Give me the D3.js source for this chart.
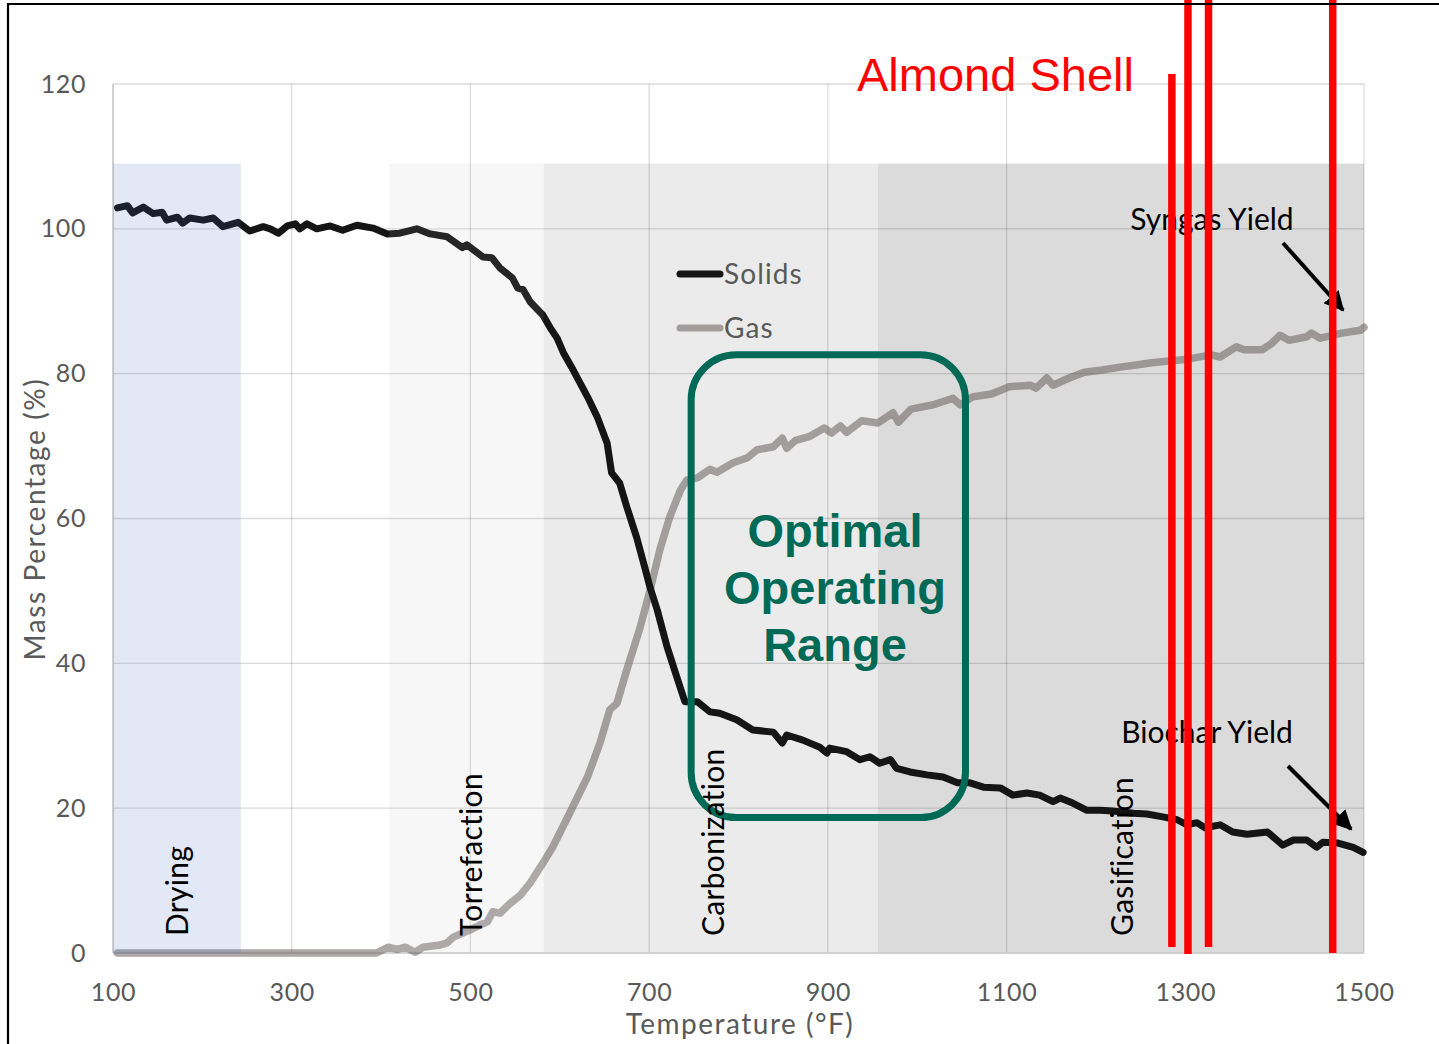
<!DOCTYPE html>
<html><head><meta charset="utf-8">
<script src="https://cdn.jsdelivr.net/npm/d3@7"></script>
<style>body{margin:0;background:#fff}svg{display:block}</style>
</head><body>
<svg id="c" width="1439" height="1044"></svg>
<script>
// ---------- data ----------
const xTicks = [100, 300, 500, 700, 900, 1100, 1300, 1500];
const yTicks = [0, 20, 40, 60, 80, 100, 120];

const solidsTemp = [105,116,122,134,145,155,160,172,178,186,201,212,223,240,253,268,276,285,295,304,309,317,328,343,357,373,391,407,421,440,455,474,491,496,514,524,533,547,553,559,567,581,589,597,604,615,631,642,653,658,667,675,686,695,701,709,720,731,740,754,768,779,798,816,839,849,854,872,891,899,902,921,936,947,958,970,977,992,1011,1029,1045,1059,1074,1093,1107,1123,1137,1152,1160,1174,1190,1205,1219,1242,1257,1275,1291,1302,1313,1322,1339,1353,1369,1392,1409,1421,1436,1447,1454,1470,1488,1499];
const solidsPct  = [102.9,103.2,102.2,103.0,102.1,102.3,101.2,101.6,100.8,101.5,101.2,101.5,100.3,100.9,99.7,100.3,100.0,99.4,100.4,100.7,100.0,100.7,100.0,100.4,99.8,100.5,100.1,99.3,99.4,100.0,99.3,98.9,97.4,97.8,96.1,96.0,94.6,93.2,91.8,91.6,89.9,88.1,86.4,84.9,82.9,80.5,76.8,74.0,70.4,66.3,64.9,61.6,57.4,53.3,50.5,47.4,42.3,38.1,34.7,34.7,33.3,33.1,32.2,30.8,30.5,29.0,30.1,29.4,28.4,27.6,28.3,27.8,26.7,27.1,26.2,26.7,25.5,25.0,24.6,24.3,23.5,23.5,22.9,22.8,21.8,22.1,21.8,20.9,21.4,20.7,19.7,19.7,19.6,19.3,19.2,18.8,18.4,17.7,18.0,17.3,17.7,16.7,16.4,16.7,14.9,15.6,15.6,14.6,15.3,15.2,14.6,13.9];

const gasTemp = [105,395,408,418,427,438,447,466,474,481,492,500,511,519,525,533,544,556,567,581,592,611,631,645,656,664,675,690,701,712,723,735,742,754,768,776,794,810,821,839,849,854,864,879,896,904,914,921,938,956,973,979,993,1018,1040,1048,1062,1083,1103,1127,1133,1145,1152,1170,1187,1207,1227,1245,1262,1302,1329,1339,1357,1366,1386,1396,1406,1416,1436,1441,1451,1475,1496,1500];
const gasPct  = [0,0,0.8,0.5,0.8,0.1,0.8,1.1,1.4,2.2,2.8,3.2,3.9,4.3,5.7,5.5,6.8,8.0,9.7,12.4,14.6,19.3,24.3,29.0,33.6,34.5,39.1,45.0,50.1,55.7,60.2,63.9,65.3,65.6,66.8,66.4,67.7,68.4,69.5,69.9,71.1,69.7,70.8,71.3,72.5,71.8,72.8,71.9,73.5,73.2,74.6,73.3,75.1,75.7,76.6,75.7,76.8,77.2,78.2,78.4,78.0,79.4,78.4,79.4,80.2,80.5,80.9,81.2,81.5,82.0,82.6,82.3,83.7,83.3,83.3,84.1,85.3,84.6,85.1,85.6,84.9,85.6,86.0,86.4];

const phaseNames = ["Drying", "Torrefaction", "Carbonization", "Gasification"];
const phaseStart = [100, 409, 582, 956];
const phaseEnd   = [243, 582, 956, 1500];
const phaseTop   = 109;
const phaseLabelTemp = [184, 513, 784, 1241];

const seriesNames = ["Solids", "Gas"];
const redLineTemps = [1285, 1303, 1326, 1465];
const optimalRange = {t0: 747, t1: 1054, v0: 18.7, v1: 82.6};

// ---------- setup ----------
const svg = d3.select("#c");
const W = 1439, H = 1044;
const x = d3.scaleLinear().domain([100, 1500]).range([113, 1364]);
const y = d3.scaleLinear().domain([0, 120]).range([953, 84]);
const FONT = "Lato, 'Open Sans', sans-serif";

svg.append("rect").attr("width", W).attr("height", H).attr("fill", "#fff");

// opaque phase bands (carbonization, gasification)
const bandFill = ["none", "none", "#ebebeb", "#dbdbdb"];
const overlayFill = ["rgba(63,100,190,0.15)", "rgba(180,180,180,0.11)", "none", "none"];
svg.append("g").selectAll("rect").data(phaseNames).join("rect")
  .attr("x", (d, i) => x(phaseStart[i]))
  .attr("y", y(phaseTop))
  .attr("width", (d, i) => x(phaseEnd[i]) - x(phaseStart[i]))
  .attr("height", y(0) - y(phaseTop))
  .attr("fill", (d, i) => bandFill[i]);

// gridlines
const grid = svg.append("g");
grid.selectAll("line.h").data(yTicks).join("line").attr("class", "h")
  .attr("x1", x(100)).attr("x2", x(1500)).attr("y1", d => y(d)).attr("y2", d => y(d))
  .attr("stroke", "rgba(0,0,0,0.14)").attr("stroke-width", 1.3);
grid.selectAll("line.v").data(xTicks).join("line").attr("class", "v")
  .attr("y1", y(0)).attr("y2", y(120)).attr("x1", d => x(d)).attr("x2", d => x(d))
  .attr("stroke", "rgba(0,0,0,0.14)").attr("stroke-width", 1.3);
// axis lines
svg.append("line").attr("x1", x(100)).attr("x2", x(100)).attr("y1", y(0)).attr("y2", y(120))
  .attr("stroke", "#c3c3c3").attr("stroke-width", 1.3);
svg.append("line").attr("x1", x(100)).attr("x2", x(1500)).attr("y1", y(0)).attr("y2", y(0))
  .attr("stroke", "#cfcfcf").attr("stroke-width", 1.5);

// axes (labels only)
const xAxis = svg.append("g").attr("transform", `translate(0,${y(0)})`)
  .call(d3.axisBottom(x).tickValues(xTicks).tickSize(0).tickPadding(30).tickFormat(d3.format("d")));
const yAxis = svg.append("g").attr("transform", `translate(${x(100)},0)`)
  .call(d3.axisLeft(y).tickValues(yTicks).tickSize(0).tickPadding(27).tickFormat(d3.format("d")));
[xAxis, yAxis].forEach(a => {
  a.select(".domain").remove();
  a.selectAll("text").attr("font-family", FONT).attr("font-size", 25).attr("fill", "#595959")
    .attr("letter-spacing", 0.6);
});

svg.append("text").attr("x", 740).attr("y", 1034).attr("text-anchor", "middle")
  .attr("font-family", FONT).attr("font-size", 28).attr("letter-spacing", 1.5)
  .attr("fill", "#595959").text("Temperature (°F)");
svg.append("text").attr("transform", "translate(45,519) rotate(-90)").attr("text-anchor", "middle")
  .attr("font-family", FONT).attr("font-size", 28).attr("letter-spacing", 1.6)
  .attr("fill", "#595959").text("Mass Percentage (%)");

// series lines
const line = d3.line().x(d => x(d[0])).y(d => y(d[1]));
const solids = solidsTemp.map((t, i) => [t, solidsPct[i]]);
const gas = gasTemp.map((t, i) => [t, gasPct[i]]);
svg.append("path").datum(gas).attr("d", line).attr("fill", "none")
  .attr("stroke", "#5d5857").attr("stroke-opacity", 0.52).attr("stroke-width", 7.5)
  .attr("stroke-linejoin", "round").attr("stroke-linecap", "round");
svg.append("path").datum(solids).attr("d", line).attr("fill", "none")
  .attr("stroke", "#151515").attr("stroke-width", 7)
  .attr("stroke-linejoin", "round").attr("stroke-linecap", "round");

// translucent overlays (drying, torrefaction)
svg.append("g").selectAll("rect").data(phaseNames).join("rect")
  .attr("x", (d, i) => x(phaseStart[i]))
  .attr("y", y(phaseTop))
  .attr("width", (d, i) => x(phaseEnd[i]) - x(phaseStart[i]))
  .attr("height", y(0) - y(phaseTop))
  .attr("fill", (d, i) => overlayFill[i]);

// legend
const legY = [274, 328];
const legStroke = ["#151515", "rgba(93,88,87,0.52)"];
const leg = svg.append("g");
seriesNames.forEach((n, i) => {
  leg.append("line").attr("x1", 680).attr("x2", 720).attr("y1", legY[i]).attr("y2", legY[i])
    .attr("stroke", legStroke[i]).attr("stroke-width", 7).attr("stroke-linecap", "round");
  leg.append("text").attr("x", 724).attr("y", legY[i] + 9.5)
    .attr("font-family", FONT).attr("font-size", 28).attr("letter-spacing", 1.1)
    .attr("fill", "#595959").text(n);
});

// optimal operating range box
const green = "#006a56";
svg.append("rect")
  .attr("x", x(optimalRange.t0)).attr("y", y(optimalRange.v1))
  .attr("width", x(optimalRange.t1) - x(optimalRange.t0))
  .attr("height", y(optimalRange.v0) - y(optimalRange.v1))
  .attr("rx", 45).attr("ry", 45)
  .attr("fill", "none").attr("stroke", green).attr("stroke-width", 7);
const optLines = ["Optimal", "Operating", "Range"];
const optBase = [547, 604, 661];
optLines.forEach((t, i) => {
  svg.append("text").attr("x", 835).attr("y", optBase[i]).attr("text-anchor", "middle")
    .attr("font-family", "'Liberation Sans', Arial, sans-serif").attr("font-weight", "bold")
    .attr("font-size", 47).attr("fill", green).text(t);
});

// phase labels
svg.append("g").selectAll("text").data(phaseNames).join("text")
  .attr("transform", (d, i) => `translate(${x(phaseLabelTemp[i])},936) rotate(-90)`)
  .attr("font-family", FONT).attr("font-size", 30).attr("letter-spacing", 0.3).attr("fill", "#000")
  .text(d => d);

// yield annotations
svg.append("text").attr("x", 1212).attr("y", 230).attr("text-anchor", "middle")
  .attr("font-family", FONT).attr("font-size", 30).attr("fill", "#000").text("Syngas Yield");
svg.append("text").attr("x", 1207).attr("y", 743).attr("text-anchor", "middle")
  .attr("font-family", FONT).attr("font-size", 30).attr("fill", "#000").text("Biochar Yield");

const defs = svg.append("defs");
defs.append("marker").attr("id", "ah").attr("viewBox", "0 0 10 10").attr("refX", 9).attr("refY", 5)
  .attr("markerWidth", 5).attr("markerHeight", 5).attr("markerUnits", "strokeWidth").attr("orient", "auto")
  .append("path").attr("d", "M0,0 L10,5 L0,10 z").attr("fill", "#000");
const arrows = [[1283, 243, 1343, 310], [1288, 766, 1351, 829]];
arrows.forEach(a => {
  svg.append("line").attr("x1", a[0]).attr("y1", a[1]).attr("x2", a[2]).attr("y2", a[3])
    .attr("stroke", "#000").attr("stroke-width", 4).attr("marker-end", "url(#ah)");
});

// title
svg.append("text").attr("x", 857).attr("y", 91)
  .attr("font-family", "'Liberation Sans', Arial, sans-serif").attr("font-size", 47)
  .attr("fill", "#ff0000").text("Almond Shell");

// red vertical lines
const redTop = [74, 0, 0, 0];
const redBottom = [947, 954, 947, 953];
svg.append("g").selectAll("line").data(redLineTemps).join("line")
  .attr("x1", d => x(d)).attr("x2", d => x(d))
  .attr("y1", (d, i) => redTop[i]).attr("y2", (d, i) => redBottom[i])
  .attr("stroke", "#ff0000").attr("stroke-width", 7.5);

// frame
svg.append("path").attr("d", `M8,${H + 5} L8,4 L${W + 5},4`).attr("fill", "none")
  .attr("stroke", "#000").attr("stroke-width", 2.2);
</script>
</body></html>
